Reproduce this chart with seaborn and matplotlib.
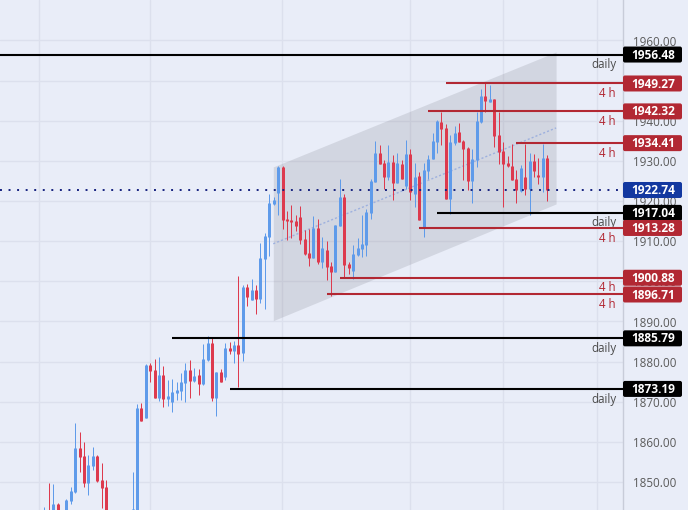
import pandas as pd
import seaborn as sns
import matplotlib.pyplot as plt
from matplotlib.patches import FancyBboxPatch
from matplotlib.transforms import IdentityTransform

# candle values (first ones sit partly below the visible range)
opens = [1840, 1842.5, 1841, 1844.53, 1841, 1842, 1845.36, 1847.5, 1858.5, 1856.5,
         1849.85, 1854, 1856.5, 1850.5, 1848.77, 1840, 1840, 1840, 1840, 1840,
         1840, 1842, 1868.45, 1866, 1879.16, 1877.9, 1870.94, 1876.67, 1870.7, 1869.94,
         1872.2, 1872.7, 1874.7, 1877.9, 1875.2, 1876.67, 1874.43, 1880.4, 1884.6, 1870.94,
         1877.4, 1876.25, 1883.4, 1882.65, 1884.1, 1882.07, 1898.67, 1895.35, 1897.84, 1895.6,
         1905.65, 1911.05, 1919.27, 1922.09, 1928.48, 1915.53, 1915.28, 1915.03, 1916.03, 1910.55,
         1907.06, 1905.82, 1913.29, 1904.82, 1907.81, 1903.82, 1902.33, 1913.79, 1921.01, 1904.32,
         1902.58, 1906.56, 1908.06, 1909.05, 1917.11, 1924.75, 1931.97, 1929.48, 1926, 1929.73,
         1924.58, 1929.23, 1923.75, 1931.72, 1921.76, 1926.24, 1913.62, 1927.49, 1930.48, 1934.71,
         1939.7, 1938.2, 1920.51, 1934.38, 1937.2, 1934.96, 1933.22, 1925, 1930.23, 1939.7,
         1946.17, 1944.68, 1945.43, 1936.46, 1932.47, 1929.48, 1928.73, 1925.5, 1922.5, 1926,
         1923, 1929.98, 1926.49, 1926, 1930.73]
highs = [1843.87, 1849.7, 1849.5, 1844.86, 1842.5, 1845.8, 1848.85, 1864.6, 1862.47, 1860,
         1856.74, 1858.73, 1856.74, 1854.66, 1850.5, 1842, 1842, 1842, 1842, 1842,
         1852.42, 1869.45, 1869.7, 1879.4, 1879.66, 1880.65, 1881.07, 1878.9, 1875.4, 1875.67,
         1874.9, 1877.2, 1879.74, 1880.4, 1878.4, 1878.2, 1884.4, 1886.4, 1885.9, 1877.4,
         1878.2, 1884.6, 1884.9, 1885.1, 1901.33, 1899.09, 1899.34, 1900.5, 1899.09, 1909.55,
         1911.96, 1921.76, 1921.1, 1928.73, 1928.73, 1917.52, 1919.02, 1916.53, 1918.77, 1912.79,
         1913.04, 1916.28, 1915.53, 1911.05, 1910.05, 1904.82, 1914.04, 1925.5, 1921.76, 1904.82,
         1909.05, 1910.8, 1916.53, 1918.02, 1925.5, 1935, 1934, 1930.23, 1934, 1931.47,
         1931.89, 1930.23, 1935.21, 1933.05, 1929.4, 1927.32, 1929.4, 1931.47, 1937.04, 1940.19,
         1942.19, 1939.2, 1936.46, 1938.7, 1939.45, 1935.21, 1933.47, 1932.97, 1942.19, 1947.92,
         1949.33, 1948.91, 1945.43, 1942.19, 1934.71, 1931.23, 1934.21, 1927.74, 1928.98, 1934.21,
         1931.97, 1931.72, 1930.73, 1934.21, 1931.47]
lows = [1838, 1838, 1839, 1839, 1839, 1840, 1844.53, 1847.36, 1852.6, 1848.85,
        1846.86, 1853, 1850.1, 1843.5, 1839, 1838, 1838, 1838, 1838, 1838,
        1838, 1840, 1865.2, 1866, 1874.84, 1870.86, 1870.2, 1868.7, 1869, 1867.45,
        1870.44, 1870.44, 1869.94, 1870.94, 1874.9, 1871.7, 1874.2, 1880.2, 1870.2, 1866.45,
        1874.9, 1875.4, 1881.9, 1879.66, 1873.7, 1880.2, 1893.86, 1895.35, 1891.87, 1894.6,
        1893.03, 1906.31, 1919.02, 1916.53, 1913.04, 1910.3, 1910.8, 1912.54, 1909.3, 1906.56,
        1903.82, 1905.82, 1904.32, 1903.32, 1900.33, 1896.35, 1902.33, 1913.79, 1901.08, 1901.83,
        1900.58, 1906.31, 1905.98, 1906.31, 1915.53, 1924.75, 1929.23, 1923, 1925.25, 1920.26,
        1924.42, 1925.41, 1923, 1920.26, 1918.6, 1915.28, 1911.13, 1925.5, 1930.4, 1931.89,
        1933.97, 1920.51, 1916.78, 1933.97, 1934.71, 1925.25, 1922.76, 1919.52, 1928.49, 1939.45,
        1942.19, 1944.68, 1933.47, 1929.23, 1918.44, 1928.4, 1925.25, 1919.52, 1922.26, 1921.51,
        1916.53, 1926, 1924.25, 1922.26, 1920.02]
closes = [1842, 1840, 1844.53, 1841, 1842, 1845.55, 1847.7, 1858.5, 1856.3, 1849.85,
          1854.25, 1856.5, 1850.26, 1848.52, 1841, 1841, 1841, 1841, 1841, 1841,
          1843.3, 1868.45, 1865.3, 1879.16, 1877.75, 1870.94, 1876.67, 1870.7, 1871.44, 1872.45,
          1872.93, 1874.9, 1877.9, 1875.2, 1876.4, 1874.43, 1880.65, 1884.6, 1870.86, 1877.4,
          1875, 1883.4, 1882.65, 1884.1, 1881.9, 1898.67, 1896.18, 1897.84, 1895.6, 1905.82,
          1911.3, 1919.52, 1920.26, 1928.48, 1915.28, 1915.03, 1914.78, 1913.79, 1910.3, 1906.81,
          1905.82, 1913.29, 1904.82, 1908.3, 1903.57, 1902.33, 1914.04, 1921.01, 1904.07, 1903.32,
          1906.81, 1908.3, 1909.3, 1917.27, 1925, 1931.97, 1929.23, 1926, 1929.73, 1924.5,
          1929.4, 1925.5, 1931.72, 1922.17, 1926, 1915.28, 1927.74, 1930.48, 1934.96, 1939.86,
          1937.95, 1920.51, 1934.71, 1936.96, 1934.71, 1932.97, 1925, 1930.48, 1939.94, 1946.17,
          1944.93, 1945.43, 1936.21, 1932.22, 1929.23, 1928.73, 1925.25, 1922.76, 1928.24, 1923,
          1929.98, 1927.49, 1926, 1930.73, 1922.76]

level_prices = [1956.48, 1949.27, 1942.32, 1934.41, 1917.04, 1913.28, 1900.88, 1896.71, 1885.79, 1873.19]
level_starts = [-11, 91, 87, 107, 89, 85, 67, 64, 29, 42]
level_names = ['daily', '4 h', '4 h', '4 h', 'daily', '4 h', '4 h', '4 h', 'daily', 'daily']

last_price = 1922.74
channel_x = [51.9, 116]
channel_top = [1928.49, 1957.13]
channel_bottom = [1890.2, 1919.27]
tick_prices = list(range(1850, 1961, 10))
vgrid_x = [-1.09, 23.96, 53.9, 82.9, 103.96, 125.3]

BG = '#e9edf8'
BLUE = '#5f9bea'
RED = '#dd3a4e'
LEVEL_RED = '#b22833'
GRID = '#dce0ed'

sns.set_theme(style='whitegrid', rc={'axes.facecolor': BG, 'figure.facecolor': BG, 'grid.color': GRID,
                                     'grid.linewidth': 1.0})
plt.rcParams['font.family'] = ['Open Sans', 'DejaVu Sans']

# one row per candle end, wicks and bodies each get their own short vertical line
wick_rows = []
body_rows = []
for i in range(len(opens)):
    side = 'up' if closes[i] >= opens[i] else 'down'
    wick_rows.append({'idx': i, 'price': lows[i], 'side': side})
    wick_rows.append({'idx': i, 'price': highs[i], 'side': side})
    body_rows.append({'idx': i, 'price': opens[i], 'side': side})
    body_rows.append({'idx': i, 'price': closes[i], 'side': side})
wicks = pd.DataFrame(wick_rows)
bodies = pd.DataFrame(body_rows)
palette = {'up': BLUE, 'down': RED}

fig = plt.figure(figsize=(6.88, 5.101), dpi=100)
ax = fig.add_axes([0, 0, 623 / 688, 1])

ax.fill_between(channel_x, channel_bottom, channel_top, color='#787b86', alpha=0.2, linewidth=0, zorder=1)
mid = pd.DataFrame({'idx': channel_x, 'price': [(a + b) / 2 for a, b in zip(channel_top, channel_bottom)]})
sns.lineplot(data=mid, x='idx', y='price', ax=ax, color='#9db0de', linewidth=1, linestyle=(0, (1.5, 1.5)), zorder=2)

sns.lineplot(data=wicks, x='idx', y='price', hue='side', units='idx', estimator=None, palette=palette,
             linewidth=0.72, legend=False, ax=ax, solid_capstyle='butt', zorder=3)
sns.lineplot(data=bodies, x='idx', y='price', hue='side', units='idx', estimator=None, palette=palette,
             linewidth=2.16, legend=False, ax=ax, solid_capstyle='butt', zorder=3)

x_left = -44.3 / 4.412
x_right = (623 - 44.3) / 4.412
ax.set_xlim(x_left, x_right)
ax.set_ylim(1843.03, 1970.09)

ax.axhline(last_price, color='#16227f', linewidth=1.4, linestyle=(0, (1, 3.4)), zorder=4)

for price, start, name in zip(level_prices, level_starts, level_names):
    col = 'black' if name == 'daily' else LEVEL_RED
    ax.hlines(price, max(start, x_left), x_right, color=col, linewidth=1.5, zorder=5)
    ax.annotate(name, xy=(616 / 623, price), xycoords=ax.get_yaxis_transform(), xytext=(0, -7.2),
                textcoords='offset points', ha='right', va='center', fontsize=8.3,
                color='#4a4a4a' if name == 'daily' else LEVEL_RED, zorder=4.5)

ax.set_xticks(vgrid_x)
ax.set_xticklabels([])
ax.set_yticks(tick_prices)
ax.set_yticklabels([f'{p:.2f}' for p in tick_prices], fontsize=8.4, color='#5a5a5a')
ax.yaxis.tick_right()
ax.tick_params(axis='both', length=0, pad=7)
ax.set_xlabel('')
ax.set_ylabel('')
ax.grid(True, zorder=0)
for name, spine in ax.spines.items():
    spine.set_visible(name == 'right')
ax.spines['right'].set_color('#c8ccd9')
ax.spines['right'].set_linewidth(1)

# price tags on the axis, positioned in pixels from the axes' own scale
tags = sorted(level_prices + [last_price], reverse=True)
for n, price in enumerate(tags):
    y_px = ax.transData.transform((0, price))[1]
    if price == last_price:
        col = '#1238a0'
    else:
        col = 'black' if level_names[level_prices.index(price)] == 'daily' else LEVEL_RED
    fig.add_artist(FancyBboxPatch((623, y_px - 8), 59, 16, boxstyle='round,pad=0,rounding_size=2',
                                  facecolor=col, edgecolor='none', transform=IdentityTransform(), zorder=10 + n))
    fig.add_artist(plt.Text(653, y_px - 0.5, f'{price:.2f}', color='white', fontsize=8.6, fontweight='bold',
                            ha='center', va='center', transform=IdentityTransform(), zorder=10.5 + n))

fig.savefig('out.png', dpi=100, facecolor=BG)
